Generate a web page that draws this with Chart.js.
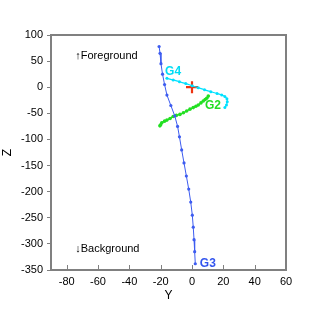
<!DOCTYPE html>
<html>
<head>
<meta charset="utf-8">
<script src="https://cdn.jsdelivr.net/npm/chart.js@4/dist/chart.umd.min.js"></script>
<style>
  html, body { margin: 0; padding: 0; background: #fff; }
</style>
</head>
<body>
<canvas id="chart" width="316" height="317"></canvas>
<script>
// track coordinates (Y horizontal, Z vertical)
const g3Y = [-21, -20.4, -19.8, -18.8, -17.5, -16, -13.5, -11, -9.2, -8, -6.6, -5.1, -3.6, -2.1, -0.8, 0.2, 0.8, 1.3, 1.7, 2.1];
const g3Z = [78, 65, 45, 25, 5, -15, -35, -55, -75, -95, -120, -145, -170, -195, -220, -245, -268, -292, -315, -338];

const g4Y = [-16, -12, -8, -4, 0, 4, 8, 12, 16, 19, 21, 22.3, 22.5, 22, 21];
const g4Z = [17, 14, 10.5, 7, 3, -1, -5, -8.5, -12, -15, -18, -22, -28, -34, -39];

const g2Y = [-20.5, -20, -19.3, -17.5, -16, -14, -12, -10, -7.7, -5.5, -3.4, -1.3, 0.8, 2.5, 4, 5.7, 7.2, 8.4, 9.4, 10.4];
const g2Z = [-74, -72, -68, -65, -63, -60, -56, -54, -52, -49, -45.5, -42, -39, -36.5, -34, -30, -26.4, -23.5, -21, -17];

const originY = [0];
const originZ = [0];

const xTicks = [-80, -60, -40, -20, 0, 20, 40, 60];
const yTicks = [100, 50, 0, -50, -100, -150, -200, -250, -300, -350];

// labels placed in data coordinates
const notes = [
  { text: '\u2191Foreground', y: -74.5, z: 60, color: '#000', bold: false },
  { text: '\u2193Background', y: -74.5, z: -310, color: '#000', bold: false },
  { text: 'G4', y: -17.2, z: 29, color: '#00dcf5', bold: true },
  { text: 'G2', y: 8.3, z: -36, color: '#22dd22', bold: true },
  { text: 'G3', y: 5, z: -337, color: '#3355ee', bold: true },
];

const pts = (xs, ys) => xs.map((x, i) => ({ x, y: ys[i] }));

const FONT = 'Liberation Sans, Arial, sans-serif';
const AXIS = '#808080';

const frame = {
  id: 'frame',
  afterDatasetsDraw(chart) {
    const { ctx, chartArea: a, scales: { x, y } } = chart;
    ctx.save();
    // inward ticks on the bottom axis
    ctx.strokeStyle = AXIS;
    ctx.lineWidth = 1;
    ctx.beginPath();
    xTicks.forEach(v => {
      const px = Math.round(x.getPixelForValue(v)) + 0.5;
      ctx.moveTo(px, a.bottom);
      ctx.lineTo(px, a.bottom - 5);
    });
    ctx.stroke();
    // box
    ctx.lineWidth = 2;
    ctx.strokeRect(a.left, a.top, a.right - a.left, a.bottom - a.top);
    // text notes
    ctx.textBaseline = 'middle';
    ctx.textAlign = 'left';
    notes.forEach(n => {
      ctx.fillStyle = n.color;
      ctx.font = (n.bold ? 'bold 12px ' : '11px ') + FONT;
      ctx.fillText(n.text, x.getPixelForValue(n.y), y.getPixelForValue(n.z));
    });
    ctx.restore();
  }
};

new Chart(document.getElementById('chart'), {
  type: 'scatter',
  data: {
    datasets: [
      { label: 'G3', data: pts(g3Y, g3Z), showLine: true, borderColor: '#3d5cf0', backgroundColor: '#3d5cf0', borderWidth: 1, pointRadius: 1.6, pointBorderWidth: 0 },
      { label: 'G4', data: pts(g4Y, g4Z), showLine: true, borderColor: '#00e1ff', backgroundColor: '#00e1ff', borderWidth: 1.2, pointRadius: 1.5, pointBorderWidth: 0, tension: 0.3 },
      { label: 'G2', data: pts(g2Y, g2Z), showLine: true, borderColor: '#22e022', backgroundColor: '#22e022', borderWidth: 1.5, pointRadius: 1.8, pointBorderWidth: 0, tension: 0.3 },
      { label: 'origin', data: pts(originY, originZ), pointStyle: 'cross', pointRadius: 6, borderColor: '#ee3311', pointBorderWidth: 2.2, backgroundColor: '#ee3311' },
    ],
  },
  options: {
    responsive: false,
    animation: false,
    layout: { padding: { top: 35, right: 30, left: 0, bottom: 10 } },
    plugins: { legend: { display: false }, tooltip: { enabled: false } },
    scales: {
      x: {
        type: 'linear', min: -90, max: 60,
        afterBuildTicks: s => { s.ticks = xTicks.map(v => ({ value: v })); },
        afterFit: s => { s.height = 37; },
        grid: { display: false, drawTicks: false },
        border: { display: false },
        ticks: { color: '#000', font: { family: FONT, size: 11 }, padding: 5 },
        title: { display: true, text: 'Y', color: '#000', font: { family: FONT, size: 12 }, padding: { top: 0 } },
      },
      y: {
        type: 'linear', min: -350, max: 100,
        afterBuildTicks: s => { s.ticks = yTicks.map(v => ({ value: v })); },
        afterFit: s => { s.width = 51; },
        grid: { drawOnChartArea: false, tickLength: 4, color: AXIS },
        border: { display: false },
        ticks: { color: '#000', font: { family: FONT, size: 11 }, padding: 4 },
        title: { display: true, text: 'Z', color: '#000', font: { family: FONT, size: 12 }, padding: 0 },
      },
    },
  },
  plugins: [frame],
});
</script>
</body>
</html>
